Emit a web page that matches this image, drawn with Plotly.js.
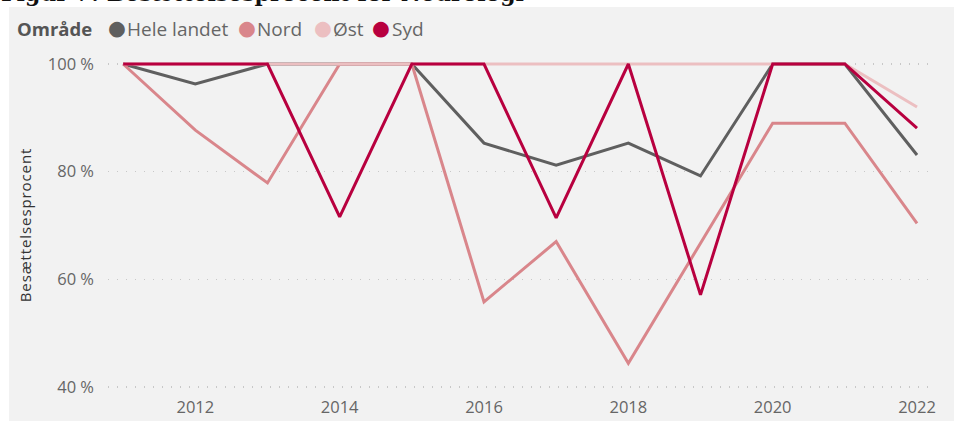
<!DOCTYPE html>
<html>
<head>
<meta charset="utf-8">
<script src="https://cdn.plot.ly/plotly-3.0.1.min.js"></script>
<style>html,body{margin:0;padding:0;background:#fff;}#chart{width:954px;height:421px;}</style>
</head>
<body>
<div id="chart"></div>
<script>
const years = [2011, 2012, 2013, 2014, 2015, 2016, 2017, 2018, 2019, 2020, 2021, 2022];
const heleLandet = [100, 96.3, 100, 100, 100, 85.3, 81.2, 85.3, 79.2, 100, 100, 83.1];
const nord = [100, 87.7, 77.9, 100, 100, 55.8, 67.0, 44.4, 66.7, 89.0, 89.0, 70.4];
const oest = [100, 100, 100, 100, 100, 100, 100, 100, 100, 100, 100, 92.0];
const syd = [100, 100, 100, 71.6, 100, 100, 71.4, 100, 57.1, 100, 100, 88.1];
const seriesNames = ["Hele landet", "Nord", "Øst", "Syd"];
const seriesColors = ["#5f5f5f", "#d9868b", "#ecbfc1", "#b8003f"];
const seriesValues = [heleLandet, nord, oest, syd];
const yTicks = [40, 60, 80, 100];
const yTickLabels = ["40 %", "60 %", "80 %", "100 %"];
const xTicks = [2012, 2014, 2016, 2018, 2020, 2022];
const xTickLabels = ["2012", "2014", "2016", "2018", "2020", "2022"];

const traces = seriesValues.map((vals, i) => ({
  x: years, y: vals, type: "scatter", mode: "lines", name: seriesNames[i],
  line: {color: seriesColors[i], width: 3},
  showlegend: false, hoverinfo: "skip"
}));

// legend row drawn as text (symbol + label per series)
const legendSymbolX = [0.0106, 0.1691, 0.2616, 0.3321];
const legendTextX = [0.0207, 0.1789, 0.2713, 0.3431];
const legendY = 1.0765;
const legendAnn = [{
  xref: "paper", yref: "paper", x: -0.1131, y: legendY, xanchor: "left", yanchor: "middle",
  text: "<b>Område</b>", showarrow: false,
  font: {family: "Open Sans, sans-serif", size: 18.5, color: "#555"}
}];
seriesNames.forEach((name, i) => {
  legendAnn.push({
    xref: "paper", yref: "paper", x: legendSymbolX[i], y: legendY + 0.003,
    xanchor: "center", yanchor: "middle", text: "●", showarrow: false,
    font: {family: "DejaVu Sans, sans-serif", size: 20.5, color: seriesColors[i]}
  });
  legendAnn.push({
    xref: "paper", yref: "paper", x: legendTextX[i], y: legendY,
    xanchor: "left", yanchor: "middle", text: name, showarrow: false,
    font: {family: "Open Sans, sans-serif", size: 19, color: "#666"}
  });
});

const layout = {
  width: 954, height: 421,
  margin: {l: 108, r: 24, t: 55, b: 26},
  paper_bgcolor: "#ffffff",
  plot_bgcolor: "rgba(0,0,0,0)",
  font: {family: "Open Sans, Noto Sans, sans-serif", color: "#666"},
  showlegend: false,
  shapes: [{
    type: "rect", xref: "paper", yref: "paper",
    x0: -0.1204, x1: 1.03, y0: -0.08, y1: 1.141,
    fillcolor: "#f2f2f2", line: {width: 0}, layer: "below"
  }],
  annotations: [{
    xref: "paper", yref: "paper", x: -0.133, y: 1.137,
    xanchor: "left", yanchor: "bottom",
    text: "<b>Figur 7: Besættelsesprocent for Neurologi</b>",
    showarrow: false,
    font: {family: "DejaVu Serif, serif", size: 22, color: "#111"}
  }].concat(legendAnn),
  xaxis: {
    range: [2010.79, 2022.18],
    tickvals: xTicks, ticktext: xTickLabels,
    showgrid: false, zeroline: false, showline: false,
    ticks: "", tickfont: {size: 16.5, color: "#666"}
  },
  yaxis: {
    range: [38.5, 101.67],
    tickvals: yTicks, ticktext: yTickLabels,
    showgrid: true, gridcolor: "#c8c8c8", griddash: "1px,8px", gridwidth: 1.5,
    zeroline: false, showline: false, ticks: "",
    ticklabelstandoff: 13,
    tickfont: {size: 16.5, color: "#666"},
    title: {text: "<span style=\"letter-spacing:0.9px\">Besættelsesprocent</span>", standoff: 12, font: {size: 15, color: "#333"}}
  }
};

Plotly.newPlot("chart", traces, layout, {staticPlot: true, displayModeBar: false});
</script>
</body>
</html>
